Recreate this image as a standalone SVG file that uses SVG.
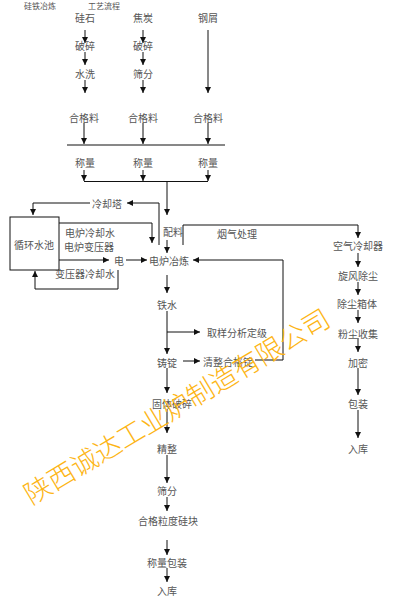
<svg xmlns="http://www.w3.org/2000/svg" width="400" height="600" viewBox="0 0 400 600">
<defs>
<marker id="ah" markerWidth="6" markerHeight="6" refX="6" refY="3" orient="auto" markerUnits="userSpaceOnUse">
<path d="M0,0 L6,3 L0,6 z" fill="#111"/>
</marker>
<style>
.t{font-family:"Noto Sans CJK SC","Noto Sans",sans-serif;font-size:10px;fill:#555;text-anchor:middle;dominant-baseline:central}
.h{font-family:"Noto Sans CJK SC","Noto Sans",sans-serif;font-size:8px;fill:#555;text-anchor:middle;dominant-baseline:central}
.c{fill:none;stroke:#111;stroke-width:1}
.a{fill:none;stroke:#111;stroke-width:1;marker-end:url(#ah)}
.wm{font-family:"Noto Sans CJK SC",sans-serif;font-size:27px;font-weight:300;fill:#FDB515;text-anchor:middle;dominant-baseline:central}
</style>
</defs>
<rect width="400" height="600" fill="#fff"/>
<g id="header">
<text class="h" x="40" y="5.5">硅铁冶炼</text>
<text class="h" x="104" y="5.5">工艺流程</text>
</g>
<g id="connectors">
<line class="a" x1="85" y1="30" x2="85" y2="43"/>
<line class="a" x1="85" y1="52" x2="85" y2="65"/>
<line class="a" x1="85" y1="80" x2="85" y2="93"/>
<line class="a" x1="143" y1="30" x2="143" y2="43"/>
<line class="a" x1="143" y1="52" x2="143" y2="65"/>
<line class="a" x1="143" y1="80" x2="143" y2="93"/>
<line class="a" x1="208" y1="30" x2="208" y2="93"/>
<line class="a" x1="84" y1="123" x2="84" y2="144"/>
<line class="a" x1="143" y1="123" x2="143" y2="144"/>
<line class="a" x1="208" y1="123" x2="208" y2="144"/>
<line class="c" x1="67" y1="145" x2="225" y2="145"/>
<line class="a" x1="84" y1="170" x2="84" y2="181"/>
<line class="a" x1="143" y1="170" x2="143" y2="181"/>
<line class="a" x1="208" y1="170" x2="208" y2="181"/>
<line class="c" x1="84" y1="181.5" x2="208" y2="181.5"/>
<line class="a" x1="167" y1="181" x2="167" y2="215"/>
<line class="a" x1="167" y1="240" x2="167" y2="253"/>
<polyline class="a" points="159,245 159,203 127,203"/>
<polyline class="a" points="90,203 33,203 33,215"/>
<polyline class="a" points="59,223 152,223 152,243"/>
<line class="a" x1="59" y1="260" x2="109" y2="260"/>
<line class="a" x1="126" y1="260" x2="147" y2="260"/>
<polyline class="a" points="118,270 118,289 35,289 35,271"/>
<polyline class="a" points="183,245 183,225 358,225 358,238"/>
<polyline class="a" points="255,360 283,360 283,260 193,260"/>
<line class="a" x1="167" y1="275" x2="167" y2="293"/>
<line class="a" x1="167" y1="311" x2="167" y2="354"/>
<line class="a" x1="167" y1="332" x2="200" y2="332"/>
<line class="a" x1="183" y1="361" x2="200" y2="361"/>
<line class="a" x1="167" y1="368" x2="167" y2="393"/>
<line class="a" x1="167" y1="409" x2="167" y2="433"/>
<line class="a" x1="167" y1="455" x2="167" y2="483"/>
<line class="a" x1="167" y1="497" x2="167" y2="511"/>
<line class="a" x1="167" y1="540" x2="167" y2="555"/>
<line class="a" x1="167" y1="568" x2="167" y2="582"/>
<line class="a" x1="358" y1="253" x2="358" y2="267"/>
<line class="a" x1="358" y1="282" x2="358" y2="295"/>
<line class="a" x1="358" y1="310" x2="358" y2="323"/>
<line class="a" x1="358" y1="338" x2="358" y2="352"/>
<line class="a" x1="358" y1="368" x2="358" y2="395"/>
<line class="a" x1="358" y1="410" x2="358" y2="438"/>
</g>
<g id="n_guishi"><text class="t" x="85" y="17">硅石</text></g>
<g id="n_posui1"><text class="t" x="85" y="45">破碎</text></g>
<g id="n_shuixi"><text class="t" x="85" y="73">水洗</text></g>
<g id="n_jiaotan"><text class="t" x="143" y="17">焦炭</text></g>
<g id="n_posui2"><text class="t" x="143" y="45">破碎</text></g>
<g id="n_shaifen1"><text class="t" x="143" y="73">筛分</text></g>
<g id="n_gangxie"><text class="t" x="208" y="17">钢屑</text></g>
<g id="n_hegeliao1"><text class="t" x="84" y="117">合格料</text></g>
<g id="n_hegeliao2"><text class="t" x="143" y="117">合格料</text></g>
<g id="n_hegeliao3"><text class="t" x="208" y="117">合格料</text></g>
<g id="n_chengliang1"><text class="t" x="85" y="162">称量</text></g>
<g id="n_chengliang2"><text class="t" x="143" y="162">称量</text></g>
<g id="n_chengliang3"><text class="t" x="208" y="162">称量</text></g>
<g id="n_lengqueta"><text class="t" x="107" y="203">冷却塔</text></g>
<g id="n_xunhuan"><rect x="10" y="217" width="49" height="53" fill="#fff" stroke="#111" stroke-width="1"/><text class="t" x="34" y="244">循环水池</text></g>
<g id="n_dianlu_water"><text class="t" x="90" y="232">电炉冷却水</text></g>
<g id="n_bianyaqi"><text class="t" x="89" y="246">电炉变压器</text></g>
<g id="n_dian"><text class="t" x="119" y="260">电</text></g>
<g id="n_byq_water"><text class="t" x="85" y="273">变压器冷却水</text></g>
<g id="n_peiliao"><text class="t" x="173" y="231">配料</text></g>
<g id="n_yelian"><text class="t" x="169" y="260">电炉冶炼</text></g>
<g id="n_yanqi"><text class="t" x="237" y="233">烟气处理</text></g>
<g id="n_kongqi"><text class="t" x="358" y="245">空气冷却器</text></g>
<g id="n_xuanfeng"><text class="t" x="358" y="275">旋风除尘</text></g>
<g id="n_xiangti"><text class="t" x="357" y="303">除尘箱体</text></g>
<g id="n_fenchen"><text class="t" x="358" y="333">粉尘收集</text></g>
<g id="n_jiami"><text class="t" x="358" y="362">加密</text></g>
<g id="n_baozhuang"><text class="t" x="358" y="403">包装</text></g>
<g id="n_ruku1"><text class="t" x="358" y="448">入库</text></g>
<g id="n_tieshui"><text class="t" x="167" y="304">铁水</text></g>
<g id="n_quyang"><text class="t" x="237" y="332">取样分析定级</text></g>
<g id="n_zhuding"><text class="t" x="167" y="362">铸锭</text></g>
<g id="n_qingzheng"><text class="t" x="228" y="361">清整合格锭</text></g>
<g id="n_gutiposui"><text class="t" x="172" y="403">固体破碎</text></g>
<g id="n_jingzheng"><text class="t" x="167" y="448">精整</text></g>
<g id="n_shaifen2"><text class="t" x="167" y="490">筛分</text></g>
<g id="n_hegekuai"><text class="t" x="168" y="520">合格粒度硅块</text></g>
<g id="n_chengbao"><text class="t" x="167" y="562">称量包装</text></g>
<g id="n_ruku2"><text class="t" x="167" y="590">入库</text></g>
<g id="watermark"><text class="wm" x="176" y="405" transform="rotate(-31 176 405)">陕西诚达工业炉制造有限公司</text></g>
</svg>
